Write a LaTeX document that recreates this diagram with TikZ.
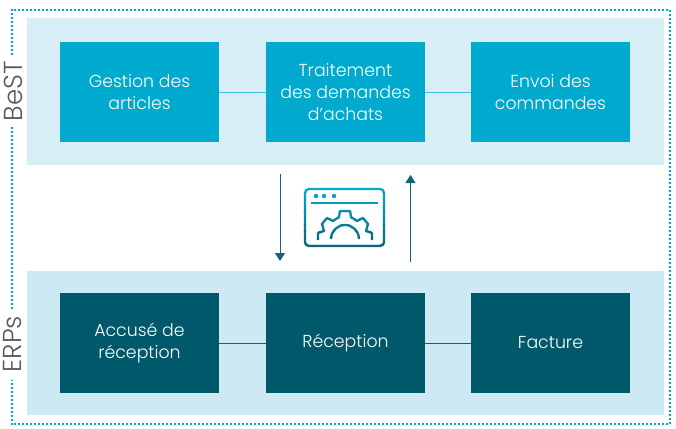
\documentclass[tikz,border=0pt]{standalone}
\usepackage{fontspec}
\setmainfont{Poppins}[UprightFont=* Light]
\usepackage{xcolor}
\usetikzlibrary{positioning, arrows.meta}
\definecolor{bestcol}{HTML}{00A9CE}
\definecolor{erpcol}{HTML}{00586B}
\definecolor{bandtop}{HTML}{D7EEF7}
\definecolor{bandlow}{HTML}{CDEAF4}
\definecolor{arrowcol}{HTML}{0F6478}
\newlength{\unit}
\setlength{\unit}{0.75pt}
\tikzset{
	every node/.style={font=\fontsize{13}{16.5}\selectfont},
	stepbox/.style={minimum width=159\unit, minimum height=100\unit, text=white, align=center, inner sep=0pt},
	sidelabel/.style={rotate=90, text=black!65, font=\fontsize{19.5}{22}\selectfont},
	framedots/.style={bestcol, line width=1.5pt, dash pattern=on 1.5pt off 1.5pt},
	exchange/.style={arrowcol, line width=0.75pt, -{Triangle[length=6pt, width=7.5pt]}},
}
\begin{document}
\begin{tikzpicture}[x=\unit, y=-\unit]
	\useasboundingbox (0,0) rectangle (676,429);

	% dotted frame, open where the side labels sit
	\draw[framedots] (11.5,55) -- (11.5,9.5) -- (670,9.5) -- (670,424) -- (11.5,424) -- (11.5,380);
	\draw[framedots] (11.5,127) -- (11.5,310);

	% bands
	\fill[bandtop] (27,18) rectangle (664,165);
	\fill[bandlow] (27,271) rectangle (664,415);

	% upper row
	\node[stepbox, fill=bestcol] (gestion) at (139.5,92) {Gestion des\\articles};
	\node[stepbox, fill=bestcol] (traitement) at (345.5,92) {Traitement\\des demandes\\d’achats};
	\node[stepbox, fill=bestcol] (envoi) at (550.5,92) {Envoi des\\commandes};
	\draw[bestcol!75] (gestion) -- (traitement);
	\draw[bestcol!75] (traitement) -- (envoi);

	% lower row
	\node[stepbox, fill=erpcol] (accuse) at (139.5,343) {Accusé de\\réception};
	\node[stepbox, fill=erpcol] (reception) at (345.5,343) {Réception};
	\node[stepbox, fill=erpcol] (facture) at (550.5,343) {Facture};
	\draw[arrowcol] (accuse) -- (reception);
	\draw[arrowcol] (reception) -- (facture);

	% side labels
	\node[sidelabel] (best) at (13,91) {BeST};
	\node[sidelabel] (erps) at (13,344) {ERPs};

	% exchange arrows
	\coordinate (downstart) at (280,174);
	\coordinate (downend) at (280,261);
	\coordinate (upstart) at (410.5,262);
	\coordinate (upend) at (410.5,175);
	\draw[exchange] (downstart) -- (downend);
	\draw[exchange] (upstart) -- (upend);

	% window icon, cut in slices for the colour ramp
	\foreach \n in {0,...,9} {
		\pgfmathsetmacro{\ramp}{\n*11}
		\begin{scope}
			\clip (300,186+\n*6.4) rectangle (390,186+\n*6.4+6.9);
			\draw[arrowcol!\ramp!bestcol, line width=1.7pt, rounded corners=4\unit] (305,189) rectangle (384,246);
			\draw[arrowcol!\ramp!bestcol, line width=1.7pt] (311,203) -- (378,203);
			\foreach \x in {316,324,334} {
				\fill[arrowcol!\ramp!bestcol] (\x,196) circle (2.2\unit);
			}
			% gear
			\draw[arrowcol!\ramp!bestcol, line width=1.7pt, line join=round]
				(318,240) -- (318,233) -- (324,231) -- (322,224) -- (327,218) -- (333,221)
				-- (339,217) -- (340,211) -- (350,211) -- (351,217) -- (357,221) -- (363,218)
				-- (368,224) -- (366,231) -- (372,233) -- (372,240);
			\draw[arrowcol!\ramp!bestcol, line width=1.7pt] (331,239) arc[start angle=180, end angle=0, radius=14\unit];
		\end{scope}
	}
\end{tikzpicture}
\end{document}
